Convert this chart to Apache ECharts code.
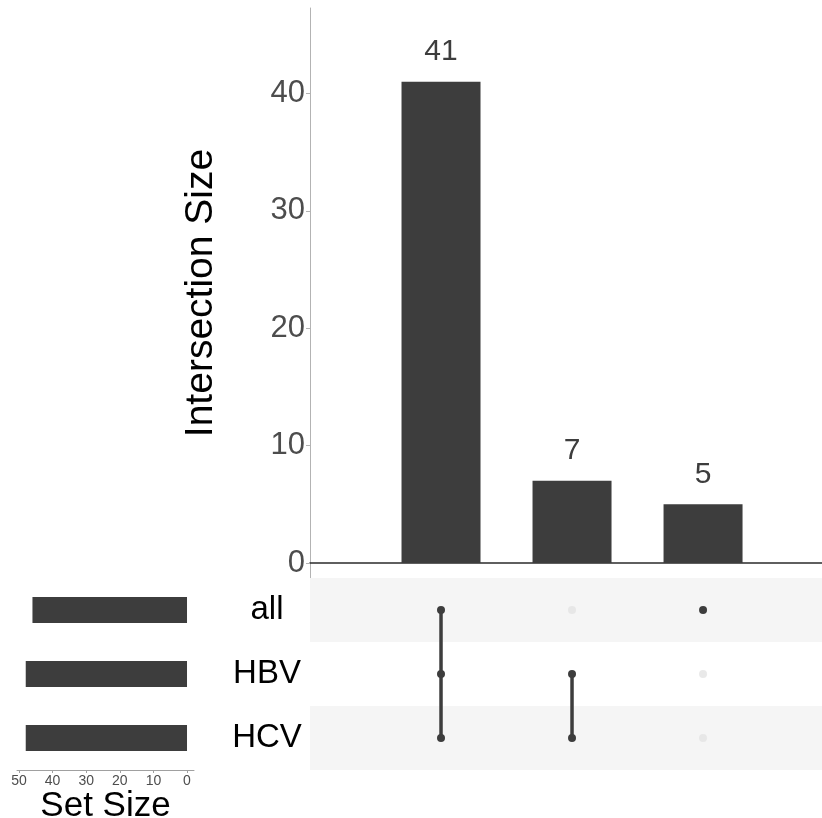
<!DOCTYPE html>
<html>
<head>
<meta charset="utf-8">
<script src="https://cdn.jsdelivr.net/npm/echarts@6/dist/echarts.min.js"></script>
<style>
html,body{margin:0;padding:0;background:#fff;}
#chart{width:822px;height:818px;}
</style>
</head>
<body>
<div id="chart"></div>
<script>
// ---- data ----
var sets = ['all', 'HBV', 'HCV'];
var setSizes = [46, 48, 48];
var intersectionSizes = [41, 7, 5];
var intersectionMembers = [
  ['all', 'HBV', 'HCV'],
  ['HBV', 'HCV'],
  ['all']
];
var intersectionTicks = [0, 10, 20, 30, 40];
var setSizeTicks = [0, 10, 20, 30, 40, 50];

// ---- build ----
var FONT = '"Liberation Sans", Arial, Helvetica, sans-serif';
var DARK = '#3d3d3d';
var xMax = 3.908;

var barData = intersectionSizes.map(function (v, i) { return [i + 1, v]; });

var bgDots = [];
for (var i = 0; i < intersectionSizes.length; i++) {
  for (var j = 0; j < sets.length; j++) {
    if (intersectionMembers[i].indexOf(sets[j]) < 0) bgDots.push([i + 1, j]);
  }
}

var series = [];
series.push({
  type: 'bar', xAxisIndex: 0, yAxisIndex: 0, data: barData, barWidth: 79,
  itemStyle: { color: DARK },
  label: { show: true, position: 'top', distance: 15, fontSize: 30, color: '#3d3d3d', fontFamily: FONT },
  silent: true
});
// set size bars
series.push({
  type: 'bar', xAxisIndex: 1, yAxisIndex: 1, data: setSizes, barWidth: 26,
  itemStyle: { color: DARK }, silent: true
});
// matrix background bands + absent dots
series.push({
  type: 'scatter', xAxisIndex: 2, yAxisIndex: 2, data: bgDots, symbolSize: 8,
  itemStyle: { color: '#e3e3e3' }, silent: true, z: 3,
  markArea: {
    silent: true,
    itemStyle: { color: '#f5f5f5' },
    data: sets.map(function (s, j) { return j % 2 === 0 ? [{ yAxis: j - 0.5 }, { yAxis: j + 0.5 }] : null; })
              .filter(function (d) { return d; })
  }
});
// membership lines
intersectionMembers.forEach(function (m, i) {
  var pts = m.map(function (s) { return [i + 1, sets.indexOf(s)]; });
  series.push({
    type: 'line', xAxisIndex: 2, yAxisIndex: 2, data: pts,
    symbol: 'circle', symbolSize: 8, showSymbol: true,
    lineStyle: { color: DARK, width: 3.5 },
    itemStyle: { color: DARK }, silent: true, z: 4, animation: false
  });
});

var option = {
  animation: false,
  backgroundColor: '#fff',
  grid: [
    { left: 310, top: 8, width: 512, height: 570, containLabel: false, outerBoundsMode: 'none' },
    { left: 17, top: 578, width: 177, height: 192, containLabel: false, outerBoundsMode: 'none' },
    { left: 310, top: 578, width: 512, height: 192, containLabel: false, outerBoundsMode: 'none' }
  ],
  xAxis: [
    {
      gridIndex: 0, type: 'value', min: 0, max: xMax,
      axisLine: { show: true, onZero: true, lineStyle: { color: '#2b2b2b', width: 1.5 } },
      axisTick: { show: false }, axisLabel: { show: false }, splitLine: { show: false }
    },
    {
      gridIndex: 1, type: 'value', inverse: true, min: -2.08, max: 50.6,
      axisLine: { show: true, lineStyle: { color: '#a0a0a0', width: 1 } },
      axisTick: { show: true, customValues: setSizeTicks, length: 3, lineStyle: { color: '#a0a0a0' } },
      axisLabel: { show: true, customValues: setSizeTicks, fontSize: 14, color: '#4d4d4d', margin: 4, fontFamily: FONT },
      splitLine: { show: false },
      name: 'Set Size', nameLocation: 'middle', nameGap: 15,
      nameTextStyle: { fontSize: 35, color: '#000', fontFamily: FONT }
    },
    {
      gridIndex: 2, type: 'value', min: 0, max: xMax, show: false
    }
  ],
  yAxis: [
    {
      gridIndex: 0, type: 'value', min: -1.28, max: 47.28,
      axisLine: { show: true, lineStyle: { color: '#b3b3b3', width: 1 } },
      axisTick: { show: true, customValues: intersectionTicks, length: 4, lineStyle: { color: '#b3b3b3' } },
      axisLabel: { show: true, customValues: intersectionTicks, fontSize: 31, color: '#4d4d4d', margin: 5, fontFamily: FONT },
      splitLine: { show: false },
      name: 'Intersection Size', nameLocation: 'middle', nameGap: 89,
      nameTextStyle: { fontSize: 39, color: '#000', fontFamily: FONT }
    },
    {
      gridIndex: 1, type: 'category', data: sets, inverse: true, position: 'right',
      axisLine: { show: false }, axisTick: { show: false },
      axisLabel: { show: true, fontSize: 33, color: '#000', margin: 73, align: 'center', fontFamily: FONT }
    },
    {
      gridIndex: 2, type: 'value', min: -0.5, max: 2.5, inverse: true, show: false
    }
  ],
  series: series
};

var chart = echarts.init(document.getElementById('chart'), null, { renderer: 'canvas' });
chart.setOption(option);
</script>
</body>
</html>
